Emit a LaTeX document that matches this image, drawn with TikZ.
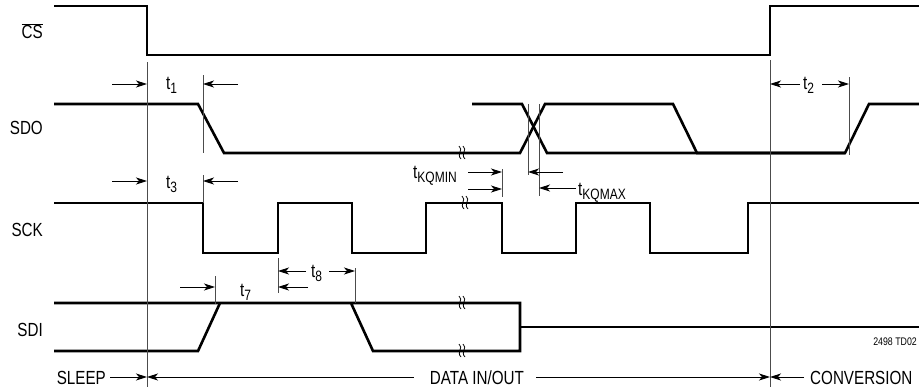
\documentclass[tikz,border=0pt]{standalone}
\usepackage{fontspec}
\setmainfont{Liberation Sans}[FakeStretch=0.8]
\usetikzlibrary{arrows.meta}
\newcommand{\tsb}[1]{\raisebox{-4pt}{\fontsize{15}{15}\selectfont #1}}
\begin{document}
\begin{tikzpicture}[x=1pt,y=-1pt,
  sig/.style={line width=2.6pt, line join=miter, line cap=butt},
  guide/.style={line width=0.8pt, black!70},
  arr/.style={line width=0.9pt, -{Stealth[length=11pt,width=7pt,inset=3pt]}},
  lbl/.style={font=\fontsize{19}{21}\selectfont, inner sep=0pt},
  brk/.pic={\draw[line width=0.8pt] (-3,-7) .. controls (2,-3) and (-6,1) .. (-1,6)
             (1,-7) .. controls (6,-3) and (-2,1) .. (3,6);}
  ]
\useasboundingbox (0,0) rectangle (919,391);

% waveforms
\draw[sig] (54,6) -- (147,6) -- (147,55) -- (770,55) -- (770,6) -- (919,6);
\draw[sig] (54,104) -- (198,104) -- (224,153) -- (520,153) -- (545,104) -- (673,104) -- (697,153) -- (845,153);
\draw[sig] (472,104) -- (522,104) -- (547,153) -- (845,153) -- (869,104) -- (919,104);
\draw[sig] (54,203) -- (203,203) -- (203,253) -- (278,253) -- (278,203) -- (352,203) -- (352,253)
  -- (426,253) -- (426,203) -- (502,203) -- (502,253) -- (576,253) -- (576,203) -- (650,203)
  -- (650,253) -- (748,253) -- (748,203) -- (919,203);
\draw[sig] (54,303) -- (520,303) -- (520,351) -- (373,351) -- (351,303);
\draw[sig] (54,351) -- (198,351) -- (220,303);
\draw[sig] (520,327) -- (919,327);

% break marks
\pic at (462,153) {brk};
\pic at (465,203) {brk};
\pic at (462,303) {brk};
\pic at (462,351) {brk};

% guide lines
\coordinate (v1t) at (147,62);   \coordinate (v1b) at (147,387);
\coordinate (v2t) at (770,60);   \coordinate (v2b) at (770,387);
\draw[guide] (v1t) -- (v1b);
\draw[guide] (v2t) -- (v2b);
\coordinate (m1t) at (203,75);  \coordinate (m1b) at (203,153);
\coordinate (m3t) at (203,175); \coordinate (m3b) at (203,203);
\coordinate (m7t) at (215,276); \coordinate (m7b) at (215,304);
\coordinate (m8at) at (278,258); \coordinate (m8ab) at (278,293);
\coordinate (m8bt) at (355,268); \coordinate (m8bb) at (355,303);
\coordinate (kmt) at (502,169); \coordinate (kmb) at (502,197);
\coordinate (kxat) at (528,104); \coordinate (kxab) at (528,175);
\coordinate (kxbt) at (539,104); \coordinate (kxbb) at (539,196);
\coordinate (m2t) at (849,77);  \coordinate (m2b) at (849,155);
\foreach \a/\b in {m1t/m1b,m3t/m3b,m7t/m7b,m8at/m8ab,m8bt/m8bb,kmt/kmb,kxat/kxab,kxbt/kxbb,m2t/m2b}
  \draw[guide] (\a) -- (\b);

% signal labels
\node[lbl, anchor=base east] (cs)  at (43,38.5) {$\overline{\mbox{CS}}$};
\node[lbl, anchor=base east] (sdo) at (43,134) {SDO};
\node[lbl, anchor=base east] (sck) at (43,236.5) {SCK};
\node[lbl, anchor=base east] (sdi) at (43,336.5) {SDI};

% timing labels
\node[lbl, anchor=base west] (t1) at (166,89) {t\tsb{1}};
\node[lbl, anchor=base west] (t3) at (166,188) {t\tsb{3}};
\node[lbl, anchor=base west] (t2) at (803,89) {t\tsb{2}};
\node[lbl, anchor=base west] (t7) at (240,296) {t\tsb{7}};
\node[lbl, anchor=base west] (t8) at (311,277) {t\tsb{8}};
\node[lbl, anchor=base west] (tkqmin) at (413,178) {t\tsb{KQMIN}};
\node[lbl, anchor=base west] (tkqmax) at (578,195) {t\tsb{KQMAX}};

% timing arrows
\coordinate (a1l) at (112,84);  \coordinate (a1le) at (147,84);
\coordinate (a1r) at (238,84);  \coordinate (a1re) at (203,84);
\coordinate (a3l) at (112,181); \coordinate (a3le) at (147,181);
\coordinate (a3r) at (238,181); \coordinate (a3re) at (203,181);
\coordinate (a2l) at (800,84);  \coordinate (a2le) at (770,84);
\coordinate (a2r) at (822,84);  \coordinate (a2re) at (849,84);
\coordinate (a7l) at (180,287); \coordinate (a7le) at (215,287);
\coordinate (a7r) at (308,287); \coordinate (a7re) at (278,287);
\coordinate (a8l) at (306,271); \coordinate (a8le) at (278,271);
\coordinate (a8r) at (329,271); \coordinate (a8re) at (355,271);
\coordinate (kn1) at (468,172); \coordinate (kn1e) at (502,172);
\coordinate (kn2) at (468,189); \coordinate (kn2e) at (502,189);
\coordinate (kx1) at (563,172); \coordinate (kx1e) at (528,172);
\coordinate (kx2) at (576,188); \coordinate (kx2e) at (539,188);
\foreach \a/\b in {a1l/a1le,a1r/a1re,a3l/a3le,a3r/a3re,a2l/a2le,a2r/a2re,a7l/a7le,a7r/a7re,
  a8l/a8le,a8r/a8re,kn1/kn1e,kn2/kn2e,kx1/kx1e,kx2/kx2e}
  \draw[arr] (\a) -- (\b);

% phase labels
\coordinate (p1) at (147,377);
\coordinate (p2) at (770,377);
\node[lbl, anchor=base east] (sleep) at (106,384) {SLEEP};
\node[lbl, anchor=base] (data) at (477,384) {DATA IN/OUT};
\node[lbl, anchor=base west] (conv) at (810,384) {CONVERSION};
\draw[arr] ([xshift=4pt]sleep.east |- p1) -- (p1);
\draw[arr] ([xshift=-16pt]data.west |- p1) -- (p1);
\draw[arr] ([xshift=12pt]data.east |- p1) -- (p2);
\draw[arr] ([xshift=-6pt]conv.west |- p2) -- (p2);

\node[font=\fontsize{11}{12}\selectfont, anchor=base east, inner sep=0pt] (tag) at (917,345) {2498 TD02};
\end{tikzpicture}
\end{document}
